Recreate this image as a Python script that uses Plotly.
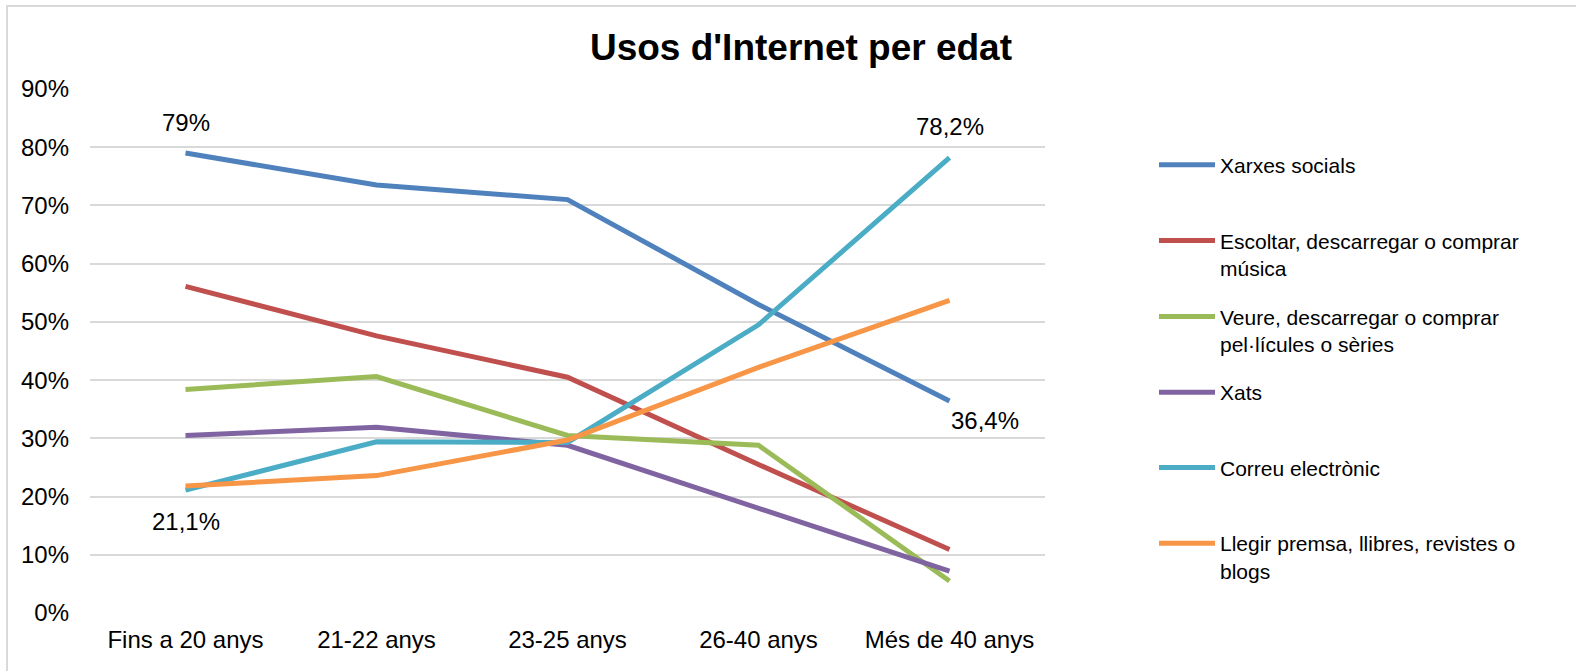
import plotly.graph_objects as go

categories = ["Fins a 20 anys", "21-22 anys", "23-25 anys", "26-40 anys", "Més de 40 anys"]

series_names = [
    "Xarxes socials",
    "Escoltar, descarregar o comprar<br>música",
    "Veure, descarregar o comprar<br>pel·lícules o sèries",
    "Xats",
    "Correu electrònic",
    "Llegir premsa, llibres, revistes o<br>blogs",
]

xarxes_socials = [0.790, 0.735, 0.710, 0.530, 0.364]
escoltar_musica = [0.561, 0.476, 0.405, 0.255, 0.109]
veure_pelicules = [0.384, 0.406, 0.305, 0.288, 0.055]
xats = [0.305, 0.319, 0.288, 0.180, 0.072]
correu = [0.211, 0.294, 0.293, 0.495, 0.782]
llegir = [0.218, 0.236, 0.297, 0.422, 0.537]

series_values = [xarxes_socials, escoltar_musica, veure_pelicules, xats, correu, llegir]
colors = ["#4F81BD", "#C0504D", "#9BBB59", "#8064A2", "#4BACC6", "#F79646"]

y_ticks = [0, 0.1, 0.2, 0.3, 0.4, 0.5, 0.6, 0.7, 0.8, 0.9]

FONT = "Liberation Sans, Arial, sans-serif"
W, H = 1576, 671
L, R, T, B = 90, 531, 89, 58
plot_w = W - L - R
plot_h = H - T - B

fig = go.Figure()
legend_px_y = [166.7, 242.3, 318.3, 394.0, 469.3, 545.0]
legend_names = ["legend", "legend2", "legend3", "legend4", "legend5", "legend6"]

for i, (name, vals, col) in enumerate(zip(series_names, series_values, colors)):
    fig.add_trace(go.Scatter(
        x=categories, y=vals, name=name, mode="lines",
        line=dict(color=col, width=5),
        legend=legend_names[i],
        hoverinfo="skip",
    ))

legend_common = dict(
    font=dict(family=FONT, size=21, color="#000000"),
    bgcolor="rgba(0,0,0,0)", borderwidth=0,
    xanchor="left", yanchor="top", valign="top",
    itemwidth=56, tracegroupgap=0,
)
layout_legends = {}
for i, ln in enumerate(legend_names):
    py = legend_px_y[i] - 22
    layout_legends[ln] = dict(
        x=(1154 - L) / plot_w,
        y=(H - B - py) / plot_h,
        **legend_common,
    )

fig.update_layout(
    width=W, height=H,
    margin=dict(l=L, r=R, t=T, b=B),
    paper_bgcolor="white", plot_bgcolor="white",
    font=dict(family=FONT, size=24, color="#000000"),
    title=dict(
        text="<b>Usos d'Internet per edat</b>",
        font=dict(family=FONT, size=37, color="#000000"),
        x=801 / W, xanchor="center", xref="container",
        y=1 - 47 / H, yanchor="middle", yref="container",
    ),
    xaxis=dict(
        type="category", range=[-0.5, len(categories) - 0.5],
        showgrid=False, showline=False, zeroline=False, ticks="",
        tickfont=dict(family=FONT, size=24, color="#000000"),
        ticklabelstandoff=10,
    ),
    yaxis=dict(
        range=[0, 0.9], tickvals=y_ticks, tickformat=".0%",
        showgrid=True, gridcolor="#D9D9D9", gridwidth=2,
        zeroline=False, showline=False, ticks="",
        tickfont=dict(family=FONT, size=24, color="#000000"),
        ticklabelstandoff=20,
    ),
    showlegend=True,
    **layout_legends,
)

# data labels
labels = [
    dict(x=categories[0], y=xarxes_socials[0], text="79%", yshift=31, xshift=0),
    dict(x=categories[0], y=correu[0], text="21,1%", yshift=-31, xshift=0),
    dict(x=categories[4], y=correu[4], text="78,2%", yshift=31, xshift=0),
    dict(x=categories[4], y=xarxes_socials[4], text="36,4%", yshift=-19, xshift=35),
]
for lab in labels:
    fig.add_annotation(
        x=lab["x"], y=lab["y"], text=lab["text"], showarrow=False,
        xshift=lab["xshift"], yshift=lab["yshift"],
        font=dict(family=FONT, size=24, color="#000000"),
        xanchor="center", yanchor="middle",
    )

# chart border
fig.add_shape(
    type="rect", xref="paper", yref="paper",
    x0=(7 - L) / plot_w, x1=(W + 20 - L) / plot_w,
    y0=(H - B - (H + 20)) / plot_h, y1=(H - B - 6) / plot_h,
    line=dict(color="#D9D9D9", width=2), fillcolor="rgba(0,0,0,0)",
    layer="below",
)

fig.write_html(
    "out.html",
    config={"displayModeBar": False},
    post_script="document.body.style.margin='0';document.body.style.overflow='hidden';",
)
